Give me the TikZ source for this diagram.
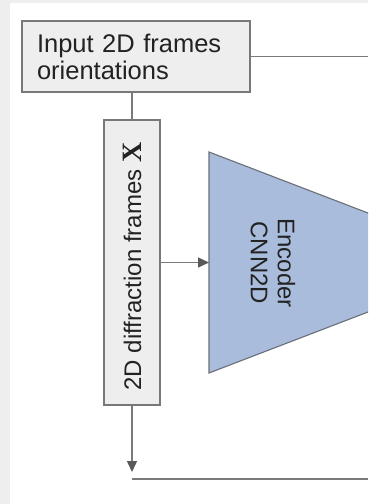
\documentclass[tikz,border=0pt]{standalone}
\usepackage{fontspec}
\setmainfont{Liberation Sans}
\newfontfamily\serifX{Liberation Serif}
\usetikzlibrary{arrows.meta}
\definecolor{bgGray}{HTML}{EEEEEE}
\definecolor{boxFill}{HTML}{EEEEEE}
\definecolor{boxLine}{HTML}{787878}
\definecolor{lineGray}{HTML}{7A7A7A}
\definecolor{encFill}{HTML}{A9BCDB}
\definecolor{encLine}{HTML}{6A6F78}
\definecolor{txt}{HTML}{222222}
\tikzset{
  graybox/.style={draw=boxLine, fill=boxFill, line width=1.1pt, inner sep=0pt},
  conn/.style={draw=lineGray, line width=1.4pt},
  arr/.style={conn, -{Triangle[length=11pt,width=10pt,color=black!65]}},
  lbl/.style={text=txt, font=\fontsize{24}{27}\selectfont, inner sep=0pt}
}
\begin{document}
\begin{tikzpicture}[x=1pt,y=-1pt]
\useasboundingbox (0,0) rectangle (368,504);
\clip (0,0) rectangle (368,504);
\fill[bgGray] (0,0) rectangle (368,504);
\fill[white] (10,3) rectangle (368,504);

% top box
\node[graybox, lbl, inner xsep=15pt, text width=198pt, minimum height=71pt, align=left,
      font=\fontsize{25.5}{27}\selectfont] (inp) at (136,56.5)
      {Input 2D frames\\orientations};
% vertical box
\node[graybox, minimum width=56pt, minimum height=285pt] (vbox) at (132,262.5) {};
\node[lbl, rotate=90] (vtxt) at ([yshift=-4pt]vbox.center) {2D diffraction frames {\serifX\bfseries\fontsize{28}{28}\selectfont X}};

% encoder triangle (clipped by the picture edge)
\coordinate (encT) at (209,152);
\coordinate (encA) at (497,262.5);
\coordinate (encB) at (209,373);
\coordinate (encL) at (209,262.5);
\draw[draw=encLine, fill=encFill, line width=1.1pt, line join=miter] (encT) -- (encA) -- (encB) -- cycle;
\node[lbl, rotate=-90, align=center] (enc) at (273,263) {Encoder\\CNN2D};

% connectors
\coordinate (topR) at (368,56.5);
\draw[conn] (inp.east) -- (topR);
\draw[conn] (inp.south -| vbox.north) -- (vbox.north);
\draw[arr] (vbox.east) -- (encL);
\coordinate (bArr) at (132,472);
\draw[arr] (vbox.south) -- (bArr);
\coordinate (bL) at (132,479);
\coordinate (bR) at (368,479);
\draw[conn] (bL) -- (bR);
\end{tikzpicture}
\end{document}
